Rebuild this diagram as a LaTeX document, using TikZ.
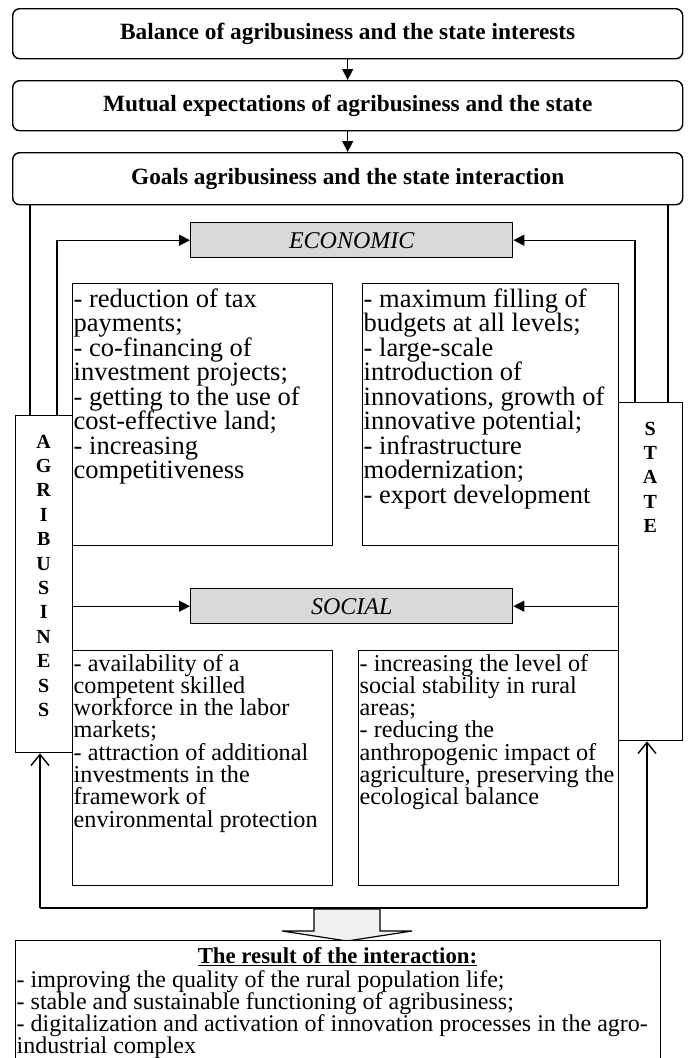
\documentclass[tikz,border=0pt]{standalone}
\usepackage{fontspec}
\setmainfont{Liberation Serif}
\usetikzlibrary{arrows.meta,calc}
\newcommand{\txtblock}[4]{\parbox[t]{#1}{\fontsize{#2}{#3}\selectfont\raggedright #4}}
\newcommand{\ctrblock}[4]{\parbox[t]{#1}{\fontsize{#2}{#3}\selectfont\centering #4}}
\begin{document}
\begin{tikzpicture}[x=1pt,y=-1pt,
  rbox/.style={draw, line width=1.4pt, rounded corners=7pt, minimum width=670pt, minimum height=50pt, anchor=north west, inner sep=0pt, font=\fontsize{23.3}{26}\selectfont\bfseries},
  plain/.style={draw, line width=1.4pt, anchor=north west, inner sep=0pt},
  lab/.style={draw, line width=1.4pt, fill=gray!30, anchor=north west, minimum width=322pt, minimum height=35pt, inner sep=0pt, font=\fontsize{24}{26}\selectfont\itshape},
  txt/.style={anchor=base west, inner sep=0pt},
  ln/.style={line width=1.4pt},
  arr/.style={ln, -{Triangle[length=11pt,width=11pt]}},
  openarr/.style={ln, -{Straight Barb[length=11pt,width=18pt,line width=1.4pt]}},
]
\useasboundingbox (0,0) rectangle (688,1058);

% top boxes
\node[rbox] (b1) at (12,8) {Balance of agribusiness and the state interests};
\node[rbox] (b2) at (12,80) {Mutual expectations of agribusiness and the state};
\node[rbox, minimum height=52pt] (b3) at (12,152) {Goals agribusiness and the state interaction};
\draw[arr] (b1.south) -- (b2.north);
\draw[arr] (b2.south) -- (b3.north);

% labels
\node[lab] (econ) at (190,222) {ECONOMIC};
\node[lab] (soc) at (190,588) {SOCIAL};

% side boxes
\node[plain, minimum width=57pt, minimum height=337pt] (agri) at (15,415) {};
\node[plain, minimum width=64pt, minimum height=338pt] (state) at (618,402) {};
\node[txt] (agrit) at (23.5,448) {\ctrblock{40pt}{20}{24.4}{\bfseries A\\G\\R\\I\\B\\U\\S\\I\\N\\E\\S\\S}};
\node[txt] (statet) at (630,435) {\ctrblock{40pt}{20}{24.4}{\bfseries S\\T\\A\\T\\E}};

% economic boxes
\node[plain, minimum width=260pt, minimum height=262pt] (el) at (72,283) {};
\node[plain, minimum width=256pt, minimum height=262pt] (er) at (362,283) {};
\node[txt] (elt) at (73.5,307) {\txtblock{258pt}{26.5}{24.5}{- reduction of tax\\payments;\\- co-financing of\\investment projects;\\- getting to the use of\\cost-effective land;\\- increasing\\competitiveness}};
\node[txt] (ert) at (363.5,307) {\txtblock{254pt}{26.5}{24.5}{- maximum filling of\\budgets at all levels;\\- large-scale\\introduction of\\innovations, growth of\\innovative potential;\\- infrastructure\\modernization;\\- export development}};

% social boxes
\node[plain, minimum width=260pt, minimum height=235pt] (sl) at (72,650) {};
\node[plain, minimum width=260pt, minimum height=235pt] (sr) at (358,650) {};
\node[txt] (slt) at (73.5,671) {\txtblock{258pt}{24.2}{22.3}{- availability of a\\competent skilled\\workforce in the labor\\markets;\\- attraction of additional\\investments in the\\framework of\\environmental protection}};
\node[txt] (srt) at (359.5,671) {\txtblock{258pt}{24.2}{22.3}{- increasing the level of\\social stability in rural\\areas;\\- reducing the\\anthropogenic impact of\\agriculture, preserving the\\ecological balance}};

% connectors to economic
\coordinate (xo1) at (30,0);
\coordinate (xi1) at (57,0);
\coordinate (xo2) at (668,0);
\coordinate (xi2) at (635,0);
\draw[ln] (b3.south -| xo1) -- (agri.north -| xo1);
\draw[ln] (b3.south -| xo2) -- (state.north -| xo2);
\draw[arr] (agri.north -| xi1) |- (econ.west);
\draw[arr] (state.north -| xi2) |- (econ.east);
\draw[arr] (agri.east |- soc.west) -- (soc.west);
\draw[arr] (state.west |- soc.east) -- (soc.east);

% bottom loop
\coordinate (bl) at (40,908);
\coordinate (br) at (647,908);
\draw[ln] (bl) -- (br);
\draw[openarr] (bl) -- (agri.south -| bl);
\draw[openarr] (br) -- (state.south -| br);

% block arrow
\draw[line width=1.2pt, fill=gray!12] (314,909) -- (380,909) -- (380,931) -- (412,931) -- (347,941) -- (282,931) -- (314,931) -- cycle;

% result
\node[plain, fill=white, minimum width=645pt, minimum height=125pt] (res) at (15,940) {};
\node[anchor=base, inner sep=0pt, font=\fontsize{22.8}{24}\selectfont\bfseries] (rest) at (337.5,963) {\underline{The result of the interaction:}};
\node[txt] (resl) at (16.5,987) {\txtblock{644pt}{24}{22.2}{- improving the quality of the rural population life;\\- stable and sustainable functioning of agribusiness;\\- digitalization and activation of innovation processes in the agro-\\industrial complex}};
\end{tikzpicture}
\end{document}
